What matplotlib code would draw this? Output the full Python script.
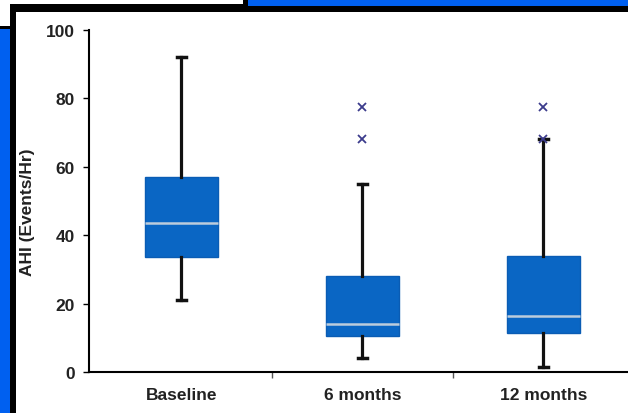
import matplotlib.pyplot as plt
from matplotlib.patches import Rectangle

plt.rcParams['font.family'] = ['Liberation Sans', 'DejaVu Sans']

categories = ["Baseline", "6 months", "12 months"]
whisker_low = [21, 4, 1.5]
q1 = [33.5, 10.5, 11.5]
medians = [43.5, 14, 16.5]
q3 = [57, 28, 34]
whisker_high = [92, 55, 68]
outliers = [[], [77.5, 68], [77.5, 68]]

W, H = 628, 414
fig = plt.figure(figsize=(W / 100, H / 100), dpi=100)

# slide frame bits around the chart (screenshot decoration)
def px_rect(x, y, w, h, color):
    fig.add_artist(Rectangle((x / W, 1 - (y + h) / H), w / W, h / H,
                             transform=fig.transFigure, color=color, lw=0, zorder=0))

px_rect(247, 0, 381, 7, '#0060f0')
px_rect(10, 5, 238, 2, 'black')
px_rect(243, 0, 5, 7, 'black')
px_rect(0, 30, 10, 384, '#0060f0')
px_rect(0, 27, 10, 3, 'black')
px_rect(10, 7, 618, 6, 'black')
px_rect(10, 7, 6, 407, 'black')

ax = fig.add_axes([89 / W, (H - 373) / H, 543 / W, (373 - 31) / H])

stats = []
for i, name in enumerate(categories):
    stats.append({
        'label': name,
        'whislo': whisker_low[i],
        'q1': q1[i],
        'med': medians[i],
        'q3': q3[i],
        'whishi': whisker_high[i],
        'fliers': outliers[i],
    })

ax.bxp(stats, positions=range(len(categories)), widths=0.40, patch_artist=True,
       boxprops=dict(facecolor='#0a66c4', edgecolor='#0a5cb4', linewidth=1),
       medianprops=dict(color='#bcccdc', linewidth=1.8),
       whiskerprops=dict(color='#111111', linewidth=2.3),
       capprops=dict(color='#111111', linewidth=2.5),
       capwidths=0.05,
       flierprops=dict(marker='x', markeredgecolor='#3c3c8c', markersize=6,
                       markeredgewidth=1.3, linestyle='none'))

ax.set_xlim(-0.51, 2.49)
ax.set_ylim(0, 100)
ax.set_yticks(range(0, 101, 20))
ax.set_xticks([0.5, 1.5])
ax.set_xticklabels([])
ax.set_xticks(range(len(categories)), minor=True)
ax.set_xticklabels(categories, minor=True, fontsize=12.5, fontweight='bold', color='#222222')
ax.tick_params(axis='x', which='minor', length=0, pad=11)
ax.tick_params(axis='x', which='major', length=4, width=1, color='#555555')
ax.tick_params(axis='y', length=4, width=1, labelsize=12.5, pad=6, labelcolor='#222222')
for lab in ax.get_yticklabels():
    lab.set_fontweight('bold')
ax.set_ylabel('AHI (Events/Hr)', fontsize=12.5, fontweight='bold', color='#222222')
ax.yaxis.set_label_coords(-0.099, 0.47)

for side in ['top', 'right']:
    ax.spines[side].set_visible(False)
ax.spines['left'].set_linewidth(1.5)
ax.spines['bottom'].set_linewidth(1.5)
ax.patch.set_alpha(0)

fig.savefig('out.png', dpi=100)
